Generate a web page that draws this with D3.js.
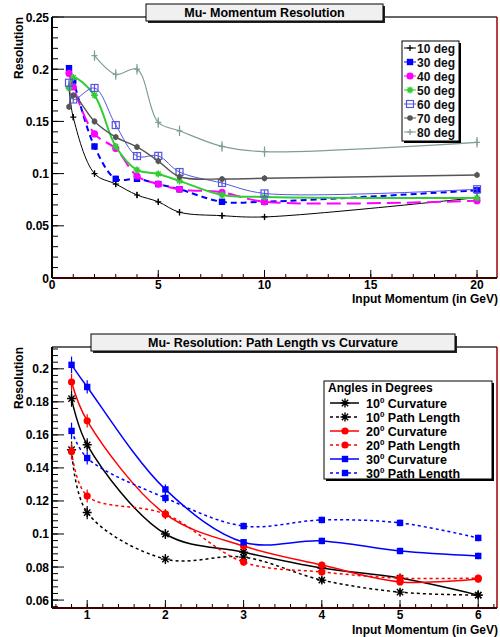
<!DOCTYPE html>
<html>
<head>
<meta charset="utf-8">
<script src="https://cdn.jsdelivr.net/npm/d3@7"></script>
<style>
  body { margin: 0; background: #fff; }
  text { font-family: "Liberation Sans", Arial, sans-serif; font-weight: bold; }
</style>
</head>
<body>
<div id="chart"></div>
<script>
// ---- top panel data (resolution vs momentum, per angle)
var topMomentum = [0.8, 1, 2, 3, 4, 5, 6, 8, 10, 20];
var topLabels = ["10 deg", "30 deg", "40 deg", "50 deg", "60 deg", "70 deg", "80 deg"];
var res10deg = [0.182, 0.154, 0.100, 0.090, 0.0795, 0.073, 0.063, 0.0597, 0.0585, 0.077];
var res30deg = [0.201, 0.189, 0.126, 0.095, 0.095, 0.090, 0.085, 0.073, 0.073, 0.084];
var res40deg = [0.196, 0.183, 0.138, 0.124, 0.0977, 0.090, 0.085, 0.082, 0.073, 0.074];
var res50deg = [0.182, 0.192, 0.175, 0.126, 0.1035, 0.0997, 0.093, 0.0795, 0.0776, 0.0767];
var res60deg = [0.187, 0.171, 0.182, 0.1465, 0.1168, 0.117, 0.1015, 0.091, 0.081, 0.085];
var res70deg = [0.164, 0.175, 0.150, 0.135, 0.1255, 0.112, 0.097, 0.0948, 0.0955, 0.0987];
var res80deg = [null, null, 0.213, 0.195, 0.200, 0.149, 0.141, 0.126, 0.121, 0.130];
var topErrors = [0.003, 0.003, 0.003, 0.003, 0.003, 0.003, 0.005];

// ---- bottom panel data (path length vs curvature)
var botMomentum = [0.8, 1, 2, 3, 4, 5, 6];
var botLabels = ["10", "10", "20", "20", "30", "30"];
var botKinds = ["Curvature", "Path Length", "Curvature", "Path Length", "Curvature", "Path Length"];
var curv10 = [0.182, 0.154, 0.100, 0.089, 0.0794, 0.0733, 0.063];
var path10 = [0.151, 0.113, 0.0848, 0.086, 0.0721, 0.0648, 0.063];
var curv20 = [0.192, 0.1685, 0.112, 0.0927, 0.0812, 0.071, 0.0727];
var path20 = [0.150, 0.123, 0.112, 0.083, 0.077, 0.0733, 0.0733];
var curv30 = [0.2024, 0.189, 0.127, 0.095, 0.0958, 0.0897, 0.0867];
var path30 = [0.1624, 0.146, 0.1218, 0.1048, 0.1085, 0.1067, 0.0976];
var botErrors = [0.005, 0.004, 0.003, 0.002, 0.002, 0.002, 0.002];

var svg = d3.select("#chart").append("svg")
    .attr("width", 500)
    .attr("height", 637);

// draw one marker
function marker(g, type, cx, cy, color) {
    if (type == "plus") {
        g.append("path").attr("d", "M" + (cx - 3) + "," + cy + "h6M" + cx + "," + (cy - 3) + "v6")
            .attr("stroke", color).attr("stroke-width", 1.2);
    } else if (type == "square") {
        g.append("rect").attr("x", cx - 3.2).attr("y", cy - 3.2).attr("width", 6.4).attr("height", 6.4)
            .attr("fill", color);
    } else if (type == "circle") {
        g.append("circle").attr("cx", cx).attr("cy", cy).attr("r", 3.6).attr("fill", color);
    } else if (type == "dot") {
        g.append("circle").attr("cx", cx).attr("cy", cy).attr("r", 2.8).attr("fill", color);
    } else if (type == "opensquare") {
        g.append("rect").attr("x", cx - 3.5).attr("y", cy - 3.5).attr("width", 7).attr("height", 7)
            .attr("fill", "none").attr("stroke", color).attr("stroke-width", 1.2);
    } else if (type == "star" || type == "asterisk") {
        var s = type == "star" ? 3.5 : 4.5;
        var d = "M" + (cx - s) + "," + cy + "h" + 2 * s + "M" + cx + "," + (cy - s) + "v" + 2 * s +
            "M" + (cx - s * 0.7) + "," + (cy - s * 0.7) + "l" + 1.4 * s + "," + 1.4 * s +
            "M" + (cx - s * 0.7) + "," + (cy + s * 0.7) + "l" + 1.4 * s + "," + -1.4 * s;
        g.append("path").attr("d", d).attr("stroke", color).attr("stroke-width", 1.4);
    }
}

// frame, ticks and labels in ROOT style
function drawFrame(x, y, opt) {
    var x0 = x.range()[0], x1 = x.range()[1], y0 = y.range()[0], y1 = y.range()[1];
    var g = svg.append("g");
    // minor ticks
    opt.xMinor.forEach(function(v) {
        g.append("line").attr("x1", x(v)).attr("x2", x(v)).attr("y1", y0).attr("y2", y0 - 4)
            .attr("stroke", "#000");
    });
    opt.yMinor.forEach(function(v) {
        g.append("line").attr("x1", x0).attr("x2", x0 + 6).attr("y1", y(v)).attr("y2", y(v))
            .attr("stroke", "#000");
    });
    // major ticks + labels
    x.ticks(opt.xTicks).forEach(function(v) {
        g.append("line").attr("x1", x(v)).attr("x2", x(v)).attr("y1", y0).attr("y2", y0 - 8)
            .attr("stroke", "#000");
        g.append("text").attr("x", x(v)).attr("y", y0 + 11).attr("text-anchor", "middle")
            .style("font-size", "12px").text(d3.format("~g")(v));
    });
    y.ticks(opt.yTicks).forEach(function(v) {
        g.append("line").attr("x1", x0).attr("x2", x0 + 12).attr("y1", y(v)).attr("y2", y(v))
            .attr("stroke", "#000");
        g.append("text").attr("x", x0 - 3).attr("y", y(v) + 4.5).attr("text-anchor", "end")
            .style("font-size", "12px").text(d3.format("~g")(v));
    });
    // frame lines
    g.append("line").attr("x1", x0).attr("x2", x1).attr("y1", y1).attr("y2", y1)
        .attr("stroke", "#333").attr("stroke-width", 1.5);
    g.append("line").attr("x1", x0).attr("x2", x0).attr("y1", y0).attr("y2", y1)
        .attr("stroke", "#000").attr("stroke-width", 2);
    g.append("line").attr("x1", x1).attr("x2", x1).attr("y1", y0).attr("y2", y1)
        .attr("stroke", "#a00000").attr("stroke-width", 1.5);
    g.append("line").attr("x1", x0).attr("x2", x1).attr("y1", y0).attr("y2", y0)
        .attr("stroke", "#400000").attr("stroke-width", 2);
    // axis titles
    g.append("text").attr("transform", "translate(23," + y1 + ") rotate(-90)")
        .attr("text-anchor", "end").style("font-size", "12px").text("Resolution");
    g.append("text").attr("x", x1 + 1).attr("y", opt.xTitleY).attr("text-anchor", "end")
        .style("font-size", "12px").text("Input Momentum (in GeV)");
}

function drawTitle(txt, bx, by, bw, bh) {
    svg.append("rect").attr("x", bx + 2).attr("y", by + 2).attr("width", bw).attr("height", bh)
        .attr("fill", "#222");
    svg.append("rect").attr("x", bx).attr("y", by).attr("width", bw).attr("height", bh)
        .attr("fill", "#f0f0f0").attr("stroke", "#000").attr("stroke-width", 1);
    svg.append("text").attr("x", bx + bw / 2).attr("y", by + bh / 2 + 4.5).attr("text-anchor", "middle")
        .style("font-size", "12.5px").text(txt);
}

function drawSeries(x, y, xs, ys, errs, s) {
    var pts = [];
    xs.forEach(function(v, i) { if (ys[i] != null) pts.push([v, ys[i], i]); });
    var g = svg.append("g");
    var line = d3.line()
        .x(function(d) { return x(d[0]); })
        .y(function(d) { return y(d[1]); })
        .curve(d3.curveCatmullRom.alpha(0.5));
    g.append("path").attr("d", line(pts)).attr("fill", "none")
        .attr("stroke", s.color).attr("stroke-width", s.width)
        .attr("stroke-dasharray", s.dash || null);
    pts.forEach(function(p) {
        var e = typeof errs == "number" ? errs : errs[p[2]];
        g.append("line").attr("x1", x(p[0])).attr("x2", x(p[0]))
            .attr("y1", y(p[1] - e)).attr("y2", y(p[1] + e))
            .attr("stroke", s.color).attr("stroke-width", 1.2);
        marker(g, s.marker, x(p[0]), y(p[1]), s.color);
    });
}

// ================= top panel =================
var xTop = d3.scaleLinear().domain([0, 20.94]).range([52, 497]);
var yTop = d3.scaleLinear().domain([0, 0.25]).range([278, 17]);

drawFrame(xTop, yTop, {
    xTicks: 5, yTicks: 5,
    xMinor: d3.range(0, 21, 1),
    yMinor: d3.range(0, 0.2501, 0.01),
    xTitleY: 302.5
});

var topStyles = [
    {color: "#000000", width: 1, marker: "plus"},
    {color: "#0000ff", width: 2, marker: "square", dash: "6,4"},
    {color: "#ff00ff", width: 2, marker: "circle", dash: "14,6"},
    {color: "#33cc33", width: 2, marker: "star"},
    {color: "#5555dd", width: 1, marker: "opensquare"},
    {color: "#555555", width: 1.4, marker: "dot"},
    {color: "#7f9f8f", width: 1.2, marker: "plus"}
];
var topSeries = [res10deg, res30deg, res40deg, res50deg, res60deg, res70deg, res80deg];

topSeries.forEach(function(ys, i) {
    drawSeries(xTop, yTop, topMomentum, ys, topErrors[i], topStyles[i]);
});

// top legend
svg.append("rect").attr("x", 404).attr("y", 43).attr("width", 57).attr("height", 100).attr("fill", "#000");
svg.append("rect").attr("x", 402).attr("y", 41).attr("width", 57).attr("height", 100)
    .attr("fill", "#fff").attr("stroke", "#000");
topLabels.forEach(function(lab, i) {
    var ly = 48 + i * 14;
    var lg = svg.append("g");
    lg.append("line").attr("x1", 404).attr("x2", 416).attr("y1", ly).attr("y2", ly)
        .attr("stroke", topStyles[i].color).attr("stroke-width", 1);
    marker(lg, topStyles[i].marker, 410, ly, topStyles[i].color);
    lg.append("text").attr("x", 417).attr("y", ly + 4.5).style("font-size", "12px")
        .attr("fill", "#111").text(lab);
});

drawTitle("Mu- Momentum Resolution", 146, 4, 237, 17);

// ================= bottom panel =================
var xBot = d3.scaleLinear().domain([0.55, 6.24]).range([52, 497]);
var yBot = d3.scaleLinear().domain([0.0552, 0.2132]).range([608, 347]);

drawFrame(xBot, yBot, {
    xTicks: 6, yTicks: 8,
    xMinor: d3.range(0.6, 6.24, 0.2),
    yMinor: d3.range(0.056, 0.2132, 0.004),
    xTitleY: 633.5
});

var botStyles = [
    {color: "#000000", width: 1.5, marker: "asterisk"},
    {color: "#000000", width: 1.5, marker: "asterisk", dash: "3,3"},
    {color: "#ff0000", width: 1.5, marker: "circle"},
    {color: "#ff0000", width: 1.5, marker: "circle", dash: "3,3"},
    {color: "#0000ff", width: 1.5, marker: "square"},
    {color: "#0000ff", width: 1.5, marker: "square", dash: "3,3"}
];
var botSeries = [curv10, path10, curv20, path20, curv30, path30];

botSeries.forEach(function(ys, i) {
    drawSeries(xBot, yBot, botMomentum, ys, botErrors, botStyles[i]);
});

// bottom legend
svg.append("rect").attr("x", 326).attr("y", 383).attr("width", 168).attr("height", 98).attr("fill", "#000");
svg.append("rect").attr("x", 324).attr("y", 381).attr("width", 168).attr("height", 98)
    .attr("fill", "#fff").attr("stroke", "#000");
svg.append("text").attr("x", 328).attr("y", 392).style("font-size", "12px").text("Angles in Degrees");
botLabels.forEach(function(lab, i) {
    var ly = 403 + i * 14;
    var lg = svg.append("g");
    lg.append("line").attr("x1", 330).attr("x2", 359).attr("y1", ly).attr("y2", ly)
        .attr("stroke", botStyles[i].color).attr("stroke-width", 1.5)
        .attr("stroke-dasharray", botStyles[i].dash || null);
    marker(lg, botStyles[i].marker, 345, ly, botStyles[i].color);
    var t = lg.append("text").attr("x", 366).attr("y", ly + 5).style("font-size", "12.5px");
    t.append("tspan").text(lab);
    t.append("tspan").attr("dy", -5).style("font-size", "8px").text("0");
    t.append("tspan").attr("dy", 5).text(" " + botKinds[i]);
});

drawTitle("Mu- Resolution: Path Length vs Curvature", 91, 334, 364, 17);
</script>
</body>
</html>
